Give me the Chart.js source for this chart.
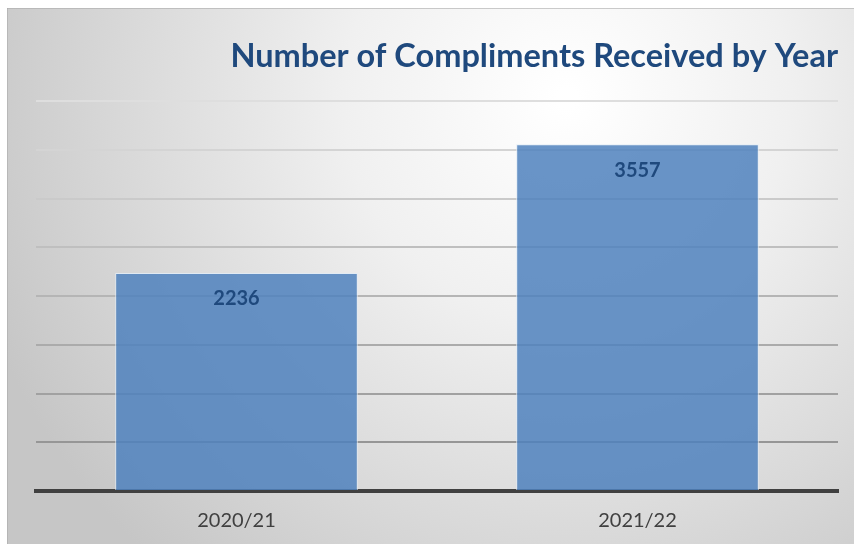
<!DOCTYPE html>
<html>
<head>
<meta charset="utf-8">
<script src="https://cdn.jsdelivr.net/npm/chart.js@4.4.1/dist/chart.umd.min.js"></script>
<style>
  html, body { margin: 0; padding: 0; background: #ffffff; }
  #wrap { position: absolute; left: 7px; top: 8px; width: 847px; height: 536px; }
  canvas { display: block; }
</style>
</head>
<body>
<div id="wrap"><canvas id="c" width="847" height="536"></canvas></div>
<script>
const categories = ["2020/21", "2021/22"];
const compliments = [2236, 3557];
const chartTitle = "Number of Compliments Received by Year";

const bgPlugin = {
  id: 'bg',
  beforeDraw(chart) {
    const ctx = chart.ctx;
    const w = chart.width, h = chart.height;
    ctx.save();
    const g = ctx.createRadialGradient(560, 90, 10, 560, 90, 620);
    g.addColorStop(0, '#ffffff');
    g.addColorStop(0.35, '#f0f0f0');
    g.addColorStop(1, '#c6c6c6');
    ctx.fillStyle = g;
    ctx.fillRect(0, 0, w, h);
    ctx.fillStyle = 'rgba(170,170,170,0.6)';
    ctx.fillRect(0, 0, w, 1);
    ctx.fillRect(0, 0, 1, h);
    ctx.restore();
  }
};

const labelPlugin = {
  id: 'valueLabels',
  afterDatasetsDraw(chart) {
    const ctx = chart.ctx;
    const meta = chart.getDatasetMeta(0);
    ctx.save();
    ctx.font = 'bold 20px Lato';
    ctx.fillStyle = '#1f497d';
    ctx.textAlign = 'center';
    ctx.textBaseline = 'middle';
    meta.data.forEach((bar, i) => {
      ctx.fillText(String(chart.data.datasets[0].data[i]), bar.x, bar.y + 26);
    });
    ctx.restore();
  }
};

new Chart(document.getElementById('c'), {
  type: 'bar',
  data: {
    labels: categories,
    datasets: [{
      data: compliments,
      backgroundColor: 'rgba(79,129,189,0.85)',
      borderColor: 'rgba(225,235,245,0.9)',
      borderWidth: 1,
      categoryPercentage: 0.605,
      barPercentage: 1.0
    }]
  },
  options: {
    responsive: false,
    animation: false,
    events: [],
    layout: { padding: { left: 29, right: 16, top: 0, bottom: 0 } },
    plugins: {
      legend: { display: false },
      tooltip: { enabled: false },
      title: {
        display: true,
        text: chartTitle,
        align: 'end',
        color: '#1f497d',
        font: { family: 'Lato', size: 32.5, weight: 'bold' },
        padding: { top: 29, bottom: 25 }
      }
    },
    scales: {
      x: {
        afterFit(scale) { scale.height = 53; },
        grid: { display: false, drawTicks: false },
        border: { display: true, color: '#404040', width: 4 },
        ticks: { color: '#404040', font: { family: 'Lato', size: 20 }, padding: 18 }
      },
      y: {
        min: 0,
        max: 4000,
        afterFit(scale) { scale.width = 0; },
        ticks: { display: false, stepSize: 500 },
        border: { display: false },
        grid: {
          drawTicks: false,
          lineWidth: 2,
          color(ctx) {
            const v = ctx.tick ? ctx.tick.value : 0;
            if (v === 0) return 'rgba(0,0,0,0)';
            const t = v / 4000;
            const c = Math.round(140 + t * 82);
            return 'rgb(' + c + ',' + c + ',' + c + ')';
          }
        }
      }
    }
  },
  plugins: [bgPlugin, labelPlugin]
});
</script>
</body>
</html>
